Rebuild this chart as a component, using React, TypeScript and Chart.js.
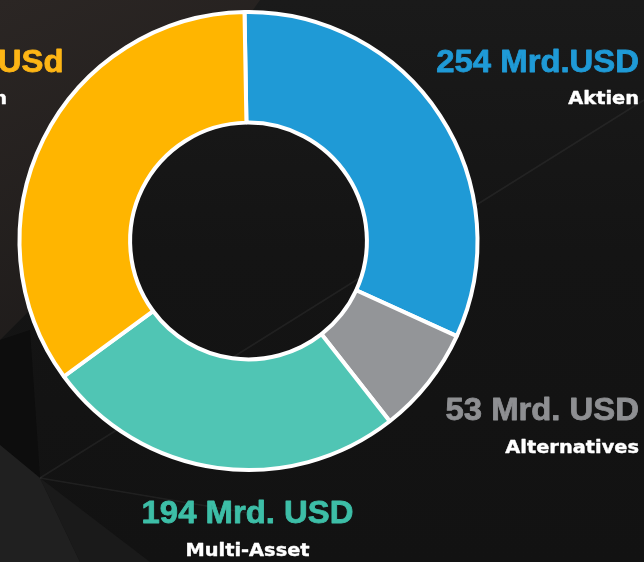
import React, { useEffect, useRef } from "react";
import { Chart, ArcElement, DoughnutController } from "chart.js";

Chart.register(ArcElement, DoughnutController);

// ---- data ----
const categories = ["Aktien", "Alternatives", "Multi-Asset", "Anleihen"];
const amountLabels = ["254 Mrd.USD", "53 Mrd. USD", "194 Mrd. USD", "281 Mrd. USd"];
// share of the ring each slice occupies as drawn (percent)
const sliceShares = [32.1, 7.6, 25.5, 34.8];
const sliceColors = ["#1f9ad6", "#939598", "#50c5b4", "#ffb500"];
const amountColors = ["#1f9ad6", "#8e8f92", "#3dbea7", "#fdb515"];

const W = 644;
const H = 562;

type Place = { x: number; yNum: number; xLab: number; yLab: number; align: "left" | "right" | "center" };
const placements: Place[] = [
  { x: 639, yNum: 71.5, xLab: 639, yLab: 104, align: "right" },
  { x: 639, yNum: 420, xLab: 639, yLab: 452.5, align: "right" },
  { x: 247.5, yNum: 523, xLab: 247.5, yLab: 556, align: "center" },
  { x: 63.5, yNum: 71.5, xLab: 7, yLab: 103.5, align: "right" },
];

function drawScaledText(
  ctx: CanvasRenderingContext2D,
  text: string,
  x: number,
  y: number,
  align: string,
  font: string,
  color: string,
  sx: number,
  stroke: number
) {
  ctx.save();
  ctx.font = font;
  ctx.fillStyle = color;
  ctx.strokeStyle = color;
  ctx.lineWidth = stroke;
  ctx.lineJoin = "round";
  ctx.textBaseline = "alphabetic";
  ctx.textAlign = "left";
  const w = ctx.measureText(text).width * sx;
  const left = align === "right" ? x - w : align === "center" ? x - w / 2 : x;
  ctx.translate(left, y);
  ctx.scale(sx, 1);
  ctx.fillText(text, 0, 0);
  if (stroke > 0) ctx.strokeText(text, 0, 0);
  ctx.restore();
}

const backgroundPlugin = {
  id: "bgFacets",
  beforeDraw(chart: any) {
    const ctx: CanvasRenderingContext2D = chart.ctx;
    ctx.save();
    const base = ctx.createLinearGradient(0, 0, 0, H);
    base.addColorStop(0, "#1a1a1a");
    base.addColorStop(0.45, "#141414");
    base.addColorStop(1, "#121212");
    ctx.fillStyle = base;
    ctx.fillRect(0, 0, W, H);

    // top-left warm facet
    const g = ctx.createLinearGradient(0, 0, 160, 330);
    g.addColorStop(0, "#2b2624");
    g.addColorStop(1, "#1e1b1a");
    ctx.fillStyle = g;
    ctx.beginPath();
    ctx.moveTo(0, 0);
    ctx.lineTo(260, 0);
    ctx.lineTo(60, 280);
    ctx.lineTo(0, 340);
    ctx.closePath();
    ctx.fill();

    // left dark wedge
    ctx.fillStyle = "#0d0d0d";
    ctx.beginPath();
    ctx.moveTo(0, 340);
    ctx.lineTo(30, 330);
    ctx.lineTo(40, 478);
    ctx.lineTo(0, 445);
    ctx.closePath();
    ctx.fill();

    // bottom-left facets
    ctx.fillStyle = "#202020";
    ctx.beginPath();
    ctx.moveTo(40, 478);
    ctx.lineTo(0, 445);
    ctx.lineTo(0, 562);
    ctx.lineTo(80, 562);
    ctx.closePath();
    ctx.fill();
    ctx.fillStyle = "#1a1a1a";
    ctx.beginPath();
    ctx.moveTo(40, 478);
    ctx.lineTo(80, 562);
    ctx.lineTo(150, 562);
    ctx.closePath();
    ctx.fill();

    // faint long diagonal lines
    ctx.strokeStyle = "rgba(255,255,255,0.06)";
    ctx.lineWidth = 1.5;
    ctx.beginPath();
    ctx.moveTo(W, 100);
    ctx.lineTo(40, 478);
    ctx.stroke();
    ctx.beginPath();
    ctx.moveTo(40, 478);
    ctx.lineTo(260, 515);
    ctx.stroke();
    ctx.restore();
  },
};

const labelPlugin = {
  id: "sliceLabels",
  afterDraw(chart: any) {
    const ctx: CanvasRenderingContext2D = chart.ctx;
    categories.forEach((cat, i) => {
      const p = placements[i];
      drawScaledText(ctx, amountLabels[i], p.x, p.yNum, p.align, 'bold 31px "Liberation Sans", Arial, sans-serif', amountColors[i], 1.06, 0.8);
      drawScaledText(ctx, cat, p.xLab, p.yLab, p.align, 'bold 17px "DejaVu Sans", sans-serif', "#ffffff", 1.14, 0.4);
    });
  },
};

export default function App() {
  const ref = useRef<HTMLCanvasElement | null>(null);

  useEffect(() => {
    if (!ref.current) return;
    const chart = new Chart(ref.current, {
      type: "doughnut",
      data: {
        labels: categories,
        datasets: [
          {
            data: sliceShares,
            backgroundColor: sliceColors,
            borderColor: "#ffffff",
            borderWidth: 4,
            borderAlign: "center",
          },
        ],
      },
      options: {
        responsive: false,
        animation: false,
        devicePixelRatio: 1,
        rotation: -1,
        cutout: "51.7%",
        layout: { padding: { left: 17.5, top: 10, right: 164.5, bottom: 90 } },
        plugins: { legend: { display: false }, tooltip: { enabled: false } },
        events: [],
      },
      plugins: [backgroundPlugin, labelPlugin],
    });
    return () => chart.destroy();
  }, []);

  return (
    <div style={{ position: "fixed", left: 0, top: 0, width: W, height: H, background: "#151515" }}>
      <canvas ref={ref} width={W} height={H} style={{ display: "block", width: W, height: H }} />
    </div>
  );
}
